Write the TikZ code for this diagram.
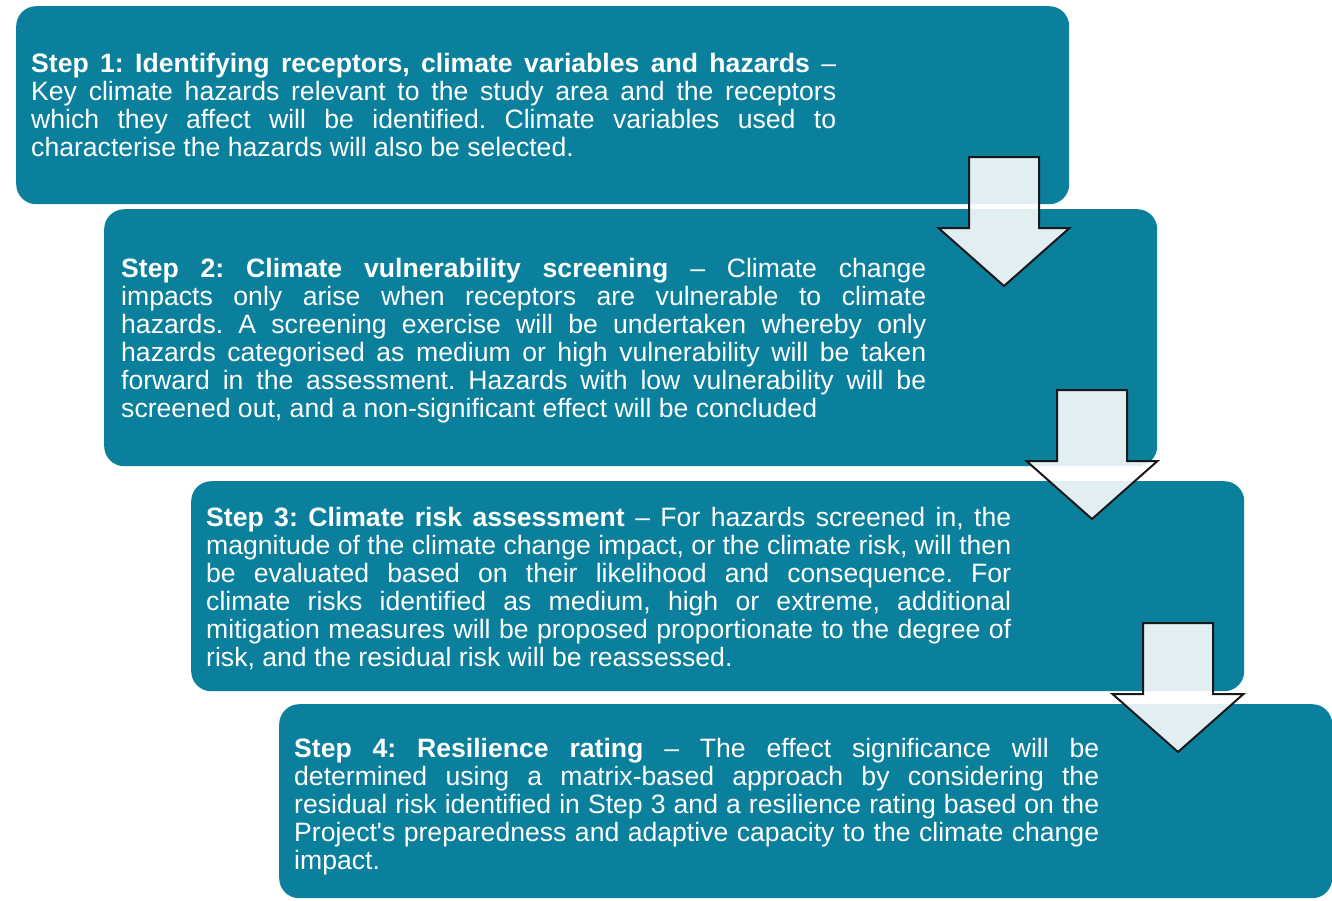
\documentclass[tikz,border=0pt]{standalone}
\usepackage{fontspec}
\setmainfont{Liberation Sans}
\usetikzlibrary{positioning}
\definecolor{stepteal}{HTML}{0A809D}
\frenchspacing
\hyphenpenalty=10000

\tikzset{
  stepbox/.style={fill=stepteal, rounded corners=20pt, inner sep=0pt, anchor=north west},
  steptext/.style={text=white, text width=805pt, align=justify, inner sep=0pt,
    font=\fontsize{26.6}{28}\selectfont},
  downarrow/.style={draw=black!90, line width=2pt, fill=white, fill opacity=0.88, line join=miter}
}

\begin{document}
\begin{tikzpicture}[x=1pt, y=-1pt]
    \useasboundingbox (0,0) rectangle (1332,900);

    % Step boxes
    \node[stepbox, minimum width=1053pt, minimum height=198pt] (box1) at (16,6) {};
    \node[stepbox, minimum width=1053pt, minimum height=257pt] (box2) at (104,209) {};
    \node[stepbox, minimum width=1053pt, minimum height=210pt] (box3) at (191,481) {};
    \node[stepbox, minimum width=1053pt, minimum height=194pt] (box4) at (279,704) {};

    % Step texts
    \node[steptext, right=15pt of box1.west] (txt1) {
      \textbf{Step 1: Identifying receptors, climate variables and hazards} --\linebreak
      Key climate hazards relevant to the study area and the receptors\linebreak
      which they affect will be identified. Climate variables used to\linebreak
      characterise the hazards will also be selected.};
    \node[steptext, right=17pt of box2.west, yshift=-3pt] (txt2) {
      \textbf{Step 2: Climate vulnerability screening} -- Climate change\linebreak
      impacts only arise when receptors are vulnerable to climate\linebreak
      hazards. A screening exercise will be undertaken whereby only\linebreak
      hazards categorised as medium or high vulnerability will be taken\linebreak
      forward in the assessment. Hazards with low vulnerability will be\linebreak
      screened out, and a non-significant effect will be concluded};
    \node[steptext, right=15pt of box3.west, yshift=-2pt] (txt3) {
      \textbf{Step 3: Climate risk assessment} -- For hazards screened in, the\linebreak
      magnitude of the climate change impact, or the climate risk, will then\linebreak
      be evaluated based on their likelihood and consequence. For\linebreak
      climate risks identified as medium, high or extreme, additional\linebreak
      mitigation measures will be proposed proportionate to the degree of\linebreak
      risk, and the residual risk will be reassessed.};
    \node[steptext, right=15pt of box4.west, yshift=-5pt] (txt4) {
      \textbf{Step 4: Resilience rating} -- The effect significance will be\linebreak
      determined using a matrix-based approach by considering the\linebreak
      residual risk identified in Step 3 and a resilience rating based on the\linebreak
      Project\textquotesingle s preparedness and adaptive capacity to the climate change\linebreak
      impact.};

    % Down arrows between steps
    \foreach \x/\y in {969/157, 1057/390, 1143/623}
        \draw[downarrow, shift={(\x,\y)}] (0,0) -- (70,0) -- (70,71) -- (100.5,71)
            -- (35,129) -- (-30.5,71) -- (0,71) -- cycle;
\end{tikzpicture}
\end{document}
